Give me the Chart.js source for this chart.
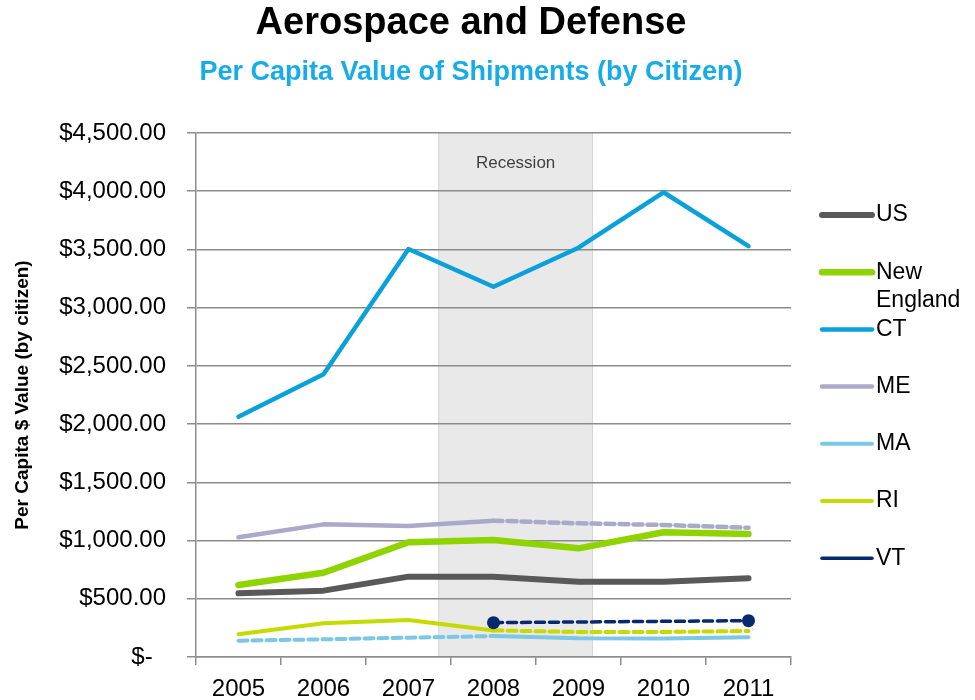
<!DOCTYPE html>
<html>
<head>
<meta charset="utf-8">
<script src="https://cdn.jsdelivr.net/npm/chart.js@4/dist/chart.umd.min.js"></script>
<style>
  html, body { margin: 0; padding: 0; background: #ffffff; }
  #wrap { width: 975px; height: 700px; position: relative; }
</style>
</head>
<body>
<div id="wrap"><canvas id="chart" width="975" height="700"></canvas></div>
<script>
// Years on the category axis
const years = ['2005', '2006', '2007', '2008', '2009', '2010', '2011'];

// Per capita value of shipments, dollars per citizen
const usValues = [547, 570, 690, 690, 647, 647, 676];
const newEnglandValues = [618, 724, 985, 1005, 933, 1071, 1056];
const ctValues = [2064, 2428, 3504, 3180, 3515, 3991, 3528];
const meValues = [1028, 1139, 1125, 1171, 1148, 1134, 1110];
const maValues = [140, 152, 166, 180, 160, 158, 169];
const riValues = [195, 289, 318, 228, 215, 215, 223];
const vtValues = [null, null, null, 295, null, null, 312];

// Year ranges drawn as estimates (dashed)
const meEstimatedYears = ['2008', '2011'];
const maEstimatedYears = ['2005', '2008'];
const riEstimatedYears = ['2008', '2011'];
const vtEstimatedYears = ['2008', '2011'];

// Y axis range and step
const yAxisMax = 4500;
const yAxisStep = 500;

// Recession shading, in fractional years (each year's slot runs from Jan to Dec)
const recessionSpan = [2007.85, 2009.67];
const recessionLabel = 'Recession';

const FONT = "'Liberation Sans', Arial, Helvetica, sans-serif";
const GRID = '#8c8c8c';
const DASH = [9, 5];

function dashedBetween(range) {
  const a = years.indexOf(range[0]);
  const b = years.indexOf(range[1]);
  return {
    borderDash: ctx => (ctx.p0DataIndex >= a && ctx.p1DataIndex <= b) ? DASH : undefined
  };
}

function series(label, data, color, width, extra) {
  return Object.assign({
    label,
    data,
    borderColor: color,
    backgroundColor: color,
    borderWidth: width,
    pointRadius: 0,
    pointHoverRadius: 0,
    borderCapStyle: 'round',
    borderJoinStyle: 'round',
    tension: 0,
    fill: false
  }, extra || {});
}

const datasets = [
  series('US', usValues, '#595959', 6),
  series('New England', newEnglandValues, '#8fd400', 6.5),
  series('CT', ctValues, '#0aa0da', 4.5),
  series('ME', meValues, '#a9aaca', 4.5, { segment: dashedBetween(meEstimatedYears) }),
  series('MA', maValues, '#7cc6e6', 4, { segment: dashedBetween(maEstimatedYears) }),
  series('RI', riValues, '#c6da00', 4, { segment: dashedBetween(riEstimatedYears) }),
  series('VT', vtValues, '#062a6e', 3.5, {
    segment: dashedBetween(vtEstimatedYears),
    spanGaps: true,
    pointRadius: 6.5,
    pointBorderWidth: 0,
    order: -1
  })
];

// Heading text drawn above the plot
const headingPlugin = {
  id: 'heading',
  afterDraw(chart) {
    const ctx = chart.ctx;
    const cx = 471;
    ctx.save();
    ctx.textAlign = 'center';
    ctx.textBaseline = 'alphabetic';
    ctx.fillStyle = '#000000';
    ctx.font = 'bold 38px ' + FONT;
    ctx.fillText('Aerospace and Defense', cx, 34);
    ctx.fillStyle = '#17ace8';
    ctx.font = 'bold 27px ' + FONT;
    ctx.fillText('Per Capita Value of Shipments (by Citizen)', cx, 80);
    ctx.restore();
  }
};

// Shaded recession band behind the grid and lines
const recessionPlugin = {
  id: 'recession',
  beforeDraw(chart) {
    const { ctx, chartArea, scales } = chart;
    const toIndex = yr => yr - Number(years[0]) - 0.5;
    const x0 = scales.x.getPixelForValue(toIndex(recessionSpan[0]));
    const x1 = scales.x.getPixelForValue(toIndex(recessionSpan[1]));
    ctx.save();
    ctx.fillStyle = '#e9e9e9';
    ctx.fillRect(x0, chartArea.top, x1 - x0, chartArea.bottom - chartArea.top);
    ctx.strokeStyle = '#d6d6d6';
    ctx.lineWidth = 1;
    ctx.beginPath();
    ctx.moveTo(x0 + 0.5, chartArea.top);
    ctx.lineTo(x0 + 0.5, chartArea.bottom);
    ctx.moveTo(x1 - 0.5, chartArea.top);
    ctx.lineTo(x1 - 0.5, chartArea.bottom);
    ctx.stroke();
    ctx.fillStyle = '#404040';
    ctx.font = '17px ' + FONT;
    ctx.textAlign = 'center';
    ctx.textBaseline = 'alphabetic';
    ctx.fillText(recessionLabel, (x0 + x1) / 2, chartArea.top + 35);
    ctx.restore();
  }
};

// Vertical legend to the right of the plot, wrapping long names
const sideLegendPlugin = {
  id: 'sideLegend',
  afterDraw(chart) {
    const ctx = chart.ctx;
    const left = chart.chartArea.right + 31;
    const lineLen = 50;
    const textX = left + lineLen + 4;
    const maxW = chart.width - textX - 2;
    const top = 215;
    const step = 57.2;
    ctx.save();
    ctx.font = '23px ' + FONT;
    ctx.textBaseline = 'middle';
    ctx.textAlign = 'left';
    chart.data.datasets.forEach((ds, i) => {
      const y = top + i * step;
      ctx.strokeStyle = ds.borderColor;
      ctx.lineWidth = ds.borderWidth;
      ctx.lineCap = 'round';
      ctx.setLineDash([]);
      ctx.beginPath();
      ctx.moveTo(left, y);
      ctx.lineTo(left + lineLen, y);
      ctx.stroke();
      const words = ds.label.split(' ');
      const lines = [];
      let cur = '';
      words.forEach(w => {
        const t = cur ? cur + ' ' + w : w;
        if (cur && ctx.measureText(t).width > maxW) { lines.push(cur); cur = w; }
        else cur = t;
      });
      lines.push(cur);
      ctx.fillStyle = '#000000';
      lines.forEach((ln, k) => ctx.fillText(ln, textX, y + k * 28));
    });
    ctx.restore();
  }
};

new Chart(document.getElementById('chart'), {
  type: 'line',
  data: { labels: years, datasets },
  plugins: [recessionPlugin, headingPlugin, sideLegendPlugin],
  options: {
    responsive: false,
    animation: false,
    events: [],
    layout: { padding: { top: 133, right: 184, left: 0, bottom: 0 } },
    plugins: {
      legend: { display: false },
      title: { display: false },
      tooltip: { enabled: false }
    },
    scales: {
      x: {
        offset: true,
        grid: {
          offset: true,
          drawOnChartArea: false,
          drawTicks: true,
          tickLength: 8,
          color: GRID,
          lineWidth: 1.5
        },
        border: { color: GRID, width: 1.5 },
        ticks: {
          color: '#000000',
          font: { family: FONT, size: 24 },
          padding: 10,
          maxRotation: 0
        },
        afterFit(scale) { scale.height = 43; }
      },
      y: {
        min: 0,
        max: yAxisMax,
        grid: {
          color: GRID,
          lineWidth: 1.5,
          tickLength: 9
        },
        border: { color: GRID, width: 1.5 },
        ticks: {
          stepSize: yAxisStep,
          color: '#000000',
          font: { family: FONT, size: 24 },
          padding: 21,
          callback: v => v === 0 ? '$-  ' :
            '$' + v.toLocaleString('en-US', { minimumFractionDigits: 2, maximumFractionDigits: 2 })
        },
        title: {
          display: true,
          text: 'Per Capita $ Value (by citizen)',
          color: '#000000',
          font: { family: FONT, size: 19, weight: 'bold' },
          padding: { top: 11, bottom: 0 }
        },
        afterFit(scale) { scale.width = 196; }
      }
    }
  }
});
</script>
</body>
</html>
